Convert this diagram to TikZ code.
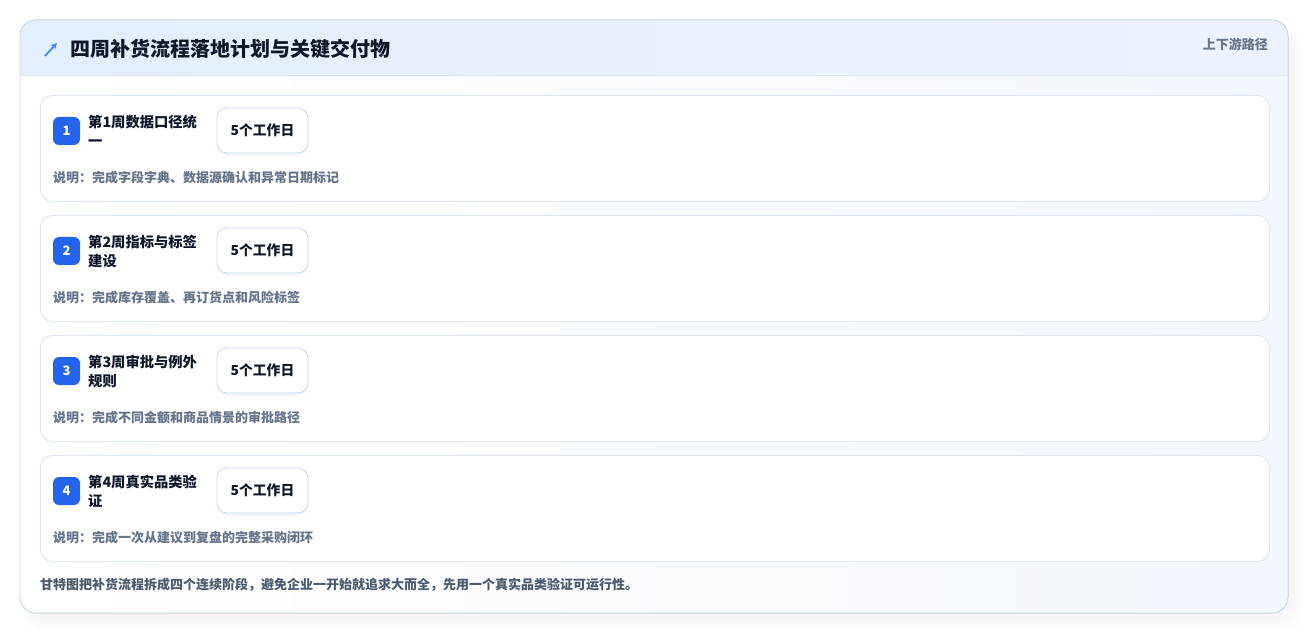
\documentclass[tikz,border=0pt]{standalone}
\usepackage{fontspec}
\setmainfont{Noto Sans CJK SC}
\usetikzlibrary{shadows,arrows.meta}
\definecolor{cardline}{HTML}{DCE7F3}
\definecolor{outerline}{HTML}{C6DDF2}
\definecolor{badgeblue}{HTML}{2563EB}
\definecolor{titlec}{HTML}{0F172A}
\definecolor{descc}{HTML}{64748B}
\definecolor{footc}{HTML}{4B5A6E}
\definecolor{pillline}{HTML}{C4D8EE}
\definecolor{hdrL}{HTML}{E2EFFC}
\definecolor{hdrR}{HTML}{EDF3FD}
\definecolor{bodyR}{HTML}{F2F8FE}
\definecolor{iconblue}{HTML}{3B82F6}
\begin{document}
\begin{tikzpicture}[x=1pt,y=-1pt,
 card/.style={draw=cardline, fill=white, rounded corners=12pt, line width=0.8pt, minimum width=1229pt, minimum height=106pt, anchor=north west, inner sep=0},
 badge/.style={fill=badgeblue, rounded corners=6pt, minimum width=27pt, minimum height=28pt, text=white, font=\bfseries\fontsize{13}{13}\selectfont, inner sep=0},
 ttl/.style={anchor=west, align=left, font=\bfseries\fontsize{14.3}{19}\selectfont, text=titlec, inner sep=0},
 pill/.style={draw=pillline, fill=white, rounded corners=10pt, line width=0.8pt, minimum width=91pt, minimum height=45pt, font=\bfseries\fontsize{13.8}{14}\selectfont, text=titlec, inner sep=0, drop shadow={opacity=0.06, shadow xshift=0pt, shadow yshift=-3pt}},
 desc/.style={anchor=west, font=\bfseries\fontsize{13}{13}\selectfont, text=descc, inner sep=0},
 lbl/.style={inner sep=0}]
\useasboundingbox (0,0) rectangle (1309,636);
\fill[white] (0,0) rectangle (1309,636);
% outer shadow (mostly below and right)
\foreach \i in {1,...,10}{
  \fill[black, opacity=0.005, rounded corners=18pt] (24,30) rectangle (1288+\i*1.6,613+\i*1.9);
}
% outer card body
\fill[left color=white, right color=bodyR, rounded corners=16pt] (20,20) rectangle (1288,613);
\begin{scope}
\clip[rounded corners=16pt] (20,20) rectangle (1288,613);
\fill[left color=hdrL, right color=hdrR] (20,20) rectangle (1288,75);
\draw[cardline, line width=0.8pt] (20,75) -- (1288,75);
\end{scope}
\draw[outerline, line width=0.9pt, rounded corners=16pt] (20,20) rectangle (1288,613);
% header
\coordinate (icA) at (45,56);
\coordinate (icB) at (57,43);
\draw[iconblue, line width=1.7pt, -{Stealth[length=6pt,width=6pt]}] (icA) -- (icB);
\node[lbl, anchor=west, font=\bfseries\fontsize{20}{20}\selectfont, text=titlec] (title) at (70,49) {四周补货流程落地计划与关键交付物};
\node[lbl, anchor=east, font=\bfseries\fontsize{13}{13}\selectfont, text=descc] (route) at (1268,44) {上下游路径};
% rows
\foreach \n/\t/\d [count=\k from 0] in {
 1/{第1周数据口径统\\一}/{说明：完成字段字典、数据源确认和异常日期标记},
 2/{第2周指标与标签\\建设}/{说明：完成库存覆盖、再订货点和风险标签},
 3/{第3周审批与例外\\规则}/{说明：完成不同金额和商品情景的审批路径},
 4/{第4周真实品类验\\证}/{说明：完成一次从建议到复盘的完整采购闭环}}{
  \pgfmathsetmacro{\oy}{\k*120}
  \node[card] (card\n) at (40,95+\oy) {};
  \node[badge] (badge\n) at (66.5,131+\oy) {\n};
  \node[ttl] (ttl\n) at (88,131+\oy) {\t};
  \node[pill] (pill\n) at (262.5,130.5+\oy) {5个工作日};
  \node[desc] (desc\n) at (53,178+\oy) {\d};
}
\node[lbl, anchor=west, font=\bfseries\fontsize{13}{13}\selectfont, text=footc] (foot) at (40,585) {甘特图把补货流程拆成四个连续阶段，避免企业一开始就追求大而全，先用一个真实品类验证可运行性。};
\end{tikzpicture}
\end{document}
